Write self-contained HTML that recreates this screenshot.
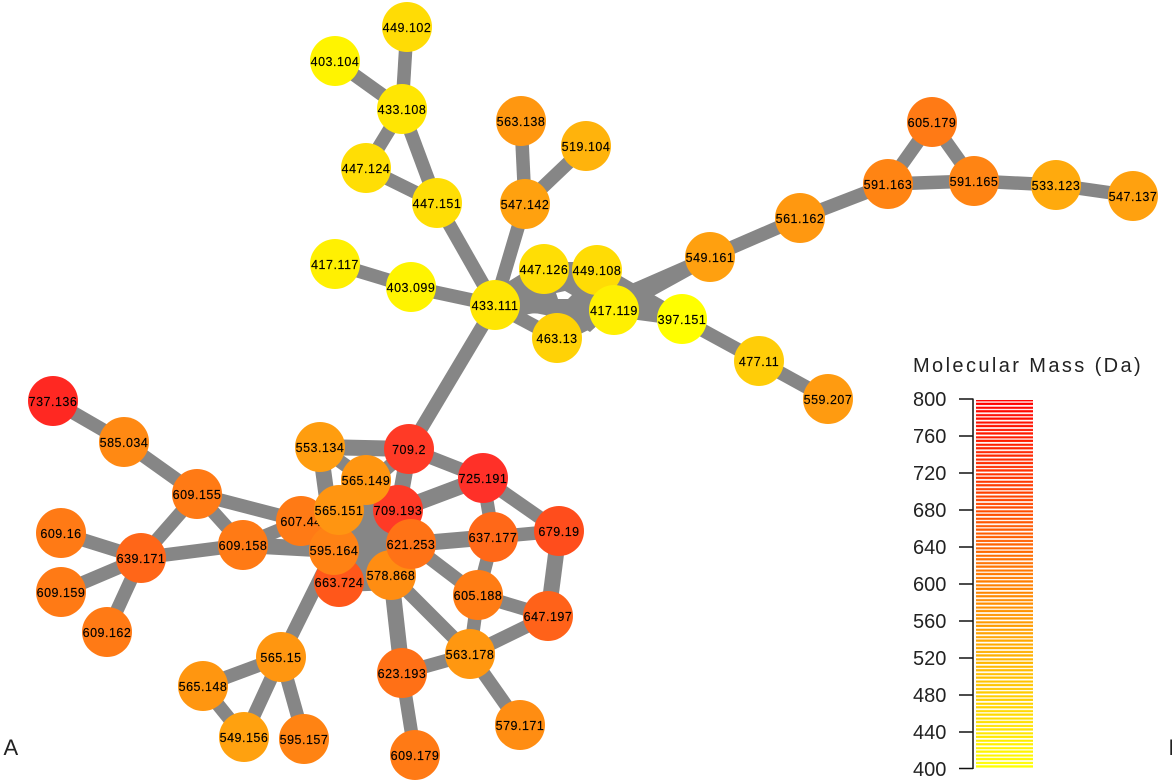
<!DOCTYPE html>
<html><head><meta charset="utf-8"><style>
html,body{margin:0;padding:0;background:#fff;width:1172px;height:783px;overflow:hidden}
svg{display:block}
text{font-family:"Liberation Sans",Arial,sans-serif}
.n text{font-size:12.5px;letter-spacing:.5px;text-anchor:middle;fill:#000;stroke:#000;stroke-width:.15}
.t{font-size:20px;fill:#222}
.e line{stroke:#868686;stroke-width:13.5}
.e line.k{stroke-width:16}
</style></head><body>
<svg width="1172" height="783" viewBox="0 0 1172 783" xmlns="http://www.w3.org/2000/svg">
<defs>
<linearGradient id="cb" x1="0" y1="0" x2="0" y2="1"><stop offset="0" stop-color="#ff0000"/><stop offset="1" stop-color="#ffff00"/></linearGradient>
<pattern id="gap" width="60" height="7.4" patternUnits="userSpaceOnUse" y="400"><rect width="60" height="1.3" y="1.4" fill="#fff"/><rect width="60" height="1.7" y="5" fill="#fff"/></pattern>
</defs>
<g class="e">
<line x1="407" y1="27" x2="402" y2="109"/><line x1="335" y1="61" x2="402" y2="109"/><line x1="402" y1="109" x2="366" y2="168"/><line x1="402" y1="109" x2="437" y2="203"/><line x1="366" y1="168" x2="437" y2="203"/><line x1="437" y1="203" x2="495" y2="305"/><line x1="521" y1="121" x2="525" y2="204"/><line x1="586" y1="146" x2="525" y2="204"/><line x1="525" y1="204" x2="495" y2="305"/><line x1="335" y1="264" x2="411" y2="287"/><line x1="411" y1="287" x2="495" y2="305"/><line x1="495" y1="305" x2="409" y2="449"/>
<line x1="495" y1="305" x2="544" y2="269"/><line x1="495" y1="305" x2="597" y2="270"/><line x1="495" y1="305" x2="614" y2="310"/><line x1="495" y1="305" x2="557" y2="338"/><line x1="544" y1="269" x2="614" y2="310"/><line x1="544" y1="269" x2="557" y2="338"/><line x1="597" y1="270" x2="682" y2="319"/><line x1="544" y1="269" x2="682" y2="319"/><line x1="557" y1="338" x2="597" y2="270"/><line x1="557" y1="338" x2="614" y2="310"/><line x1="614" y1="310" x2="710" y2="257"/><line x1="600" y1="305" x2="710" y2="257"/><line x1="614" y1="310" x2="682" y2="319"/><line x1="682" y1="319" x2="759" y2="361"/><line x1="759" y1="361" x2="828" y2="399"/><line x1="710" y1="257" x2="800" y2="218"/><line x1="800" y1="218" x2="888" y2="184"/><line x1="888" y1="184" x2="932" y2="122"/><line x1="932" y1="122" x2="974" y2="181"/><line x1="888" y1="184" x2="974" y2="181"/><line x1="974" y1="181" x2="1056" y2="185"/><line x1="1056" y1="185" x2="1133" y2="196"/>
<line x1="53" y1="401" x2="124" y2="442"/><line x1="124" y1="442" x2="197" y2="494"/><line x1="197" y1="494" x2="141" y2="558"/><line x1="197" y1="494" x2="301" y2="521"/><line x1="197" y1="494" x2="243" y2="545"/><line x1="61" y1="533" x2="141" y2="558"/><line x1="61" y1="592" x2="141" y2="558"/><line x1="107" y1="632" x2="141" y2="558"/><line x1="141" y1="558" x2="243" y2="545"/><line x1="243" y1="545" x2="334" y2="550" class="k"/><line x1="243" y1="545" x2="301" y2="521"/>
<line x1="320" y1="447" x2="409" y2="449" class="k"/><line x1="320" y1="447" x2="366" y2="480"/><line x1="320" y1="447" x2="334" y2="550" class="k"/><line x1="409" y1="449" x2="483" y2="478"/><line x1="409" y1="449" x2="398" y2="510" class="k"/><line x1="409" y1="449" x2="339" y2="510"/><line x1="483" y1="478" x2="398" y2="510" class="k"/><line x1="483" y1="478" x2="493" y2="537"/><line x1="483" y1="478" x2="559" y2="531"/><line x1="493" y1="537" x2="559" y2="531"/><line x1="411" y1="544" x2="493" y2="537" class="k"/><line x1="411" y1="544" x2="478" y2="595"/><line x1="493" y1="537" x2="478" y2="595"/><line x1="478" y1="595" x2="548" y2="616"/><line x1="478" y1="595" x2="470" y2="654"/><line x1="559" y1="531" x2="548" y2="616" class="k"/><line x1="548" y1="616" x2="470" y2="654"/><line x1="391" y1="575" x2="470" y2="654"/><line x1="391" y1="575" x2="402" y2="673" class="k"/><line x1="402" y1="673" x2="470" y2="654"/><line x1="402" y1="673" x2="415" y2="755"/><line x1="470" y1="654" x2="520" y2="725"/><line x1="334" y1="550" x2="281" y2="657"/><line x1="281" y1="657" x2="203" y2="686"/><line x1="281" y1="657" x2="244" y2="737"/><line x1="281" y1="657" x2="304" y2="739"/><line x1="203" y1="686" x2="244" y2="737"/>
</g>
<polygon fill="#868686" points="340,515 375,495 412,540 398,590 340,592 325,550"/>
<polygon fill="#868686" points="495,290 540,262 600,262 625,300 590,332 570,320 535,313 495,320"/>
<polygon fill="#fff" points="556,293 565,291 572,295 568,299 558,299"/>
<g class="n">
<g><circle cx="407" cy="27" r="25" fill="#ffdc05"/><text x="407" y="32">449.102</text></g>
<g><circle cx="335" cy="61" r="25" fill="#fff400"/><text x="335" y="66">403.104</text></g>
<g><circle cx="402" cy="109" r="25" fill="#ffe603"/><text x="402" y="114">433.108</text></g>
<g><circle cx="366" cy="168" r="25" fill="#ffde05"/><text x="366" y="173">447.124</text></g>
<g><circle cx="437" cy="203" r="25" fill="#ffde05"/><text x="437" y="208">447.151</text></g>
<g><circle cx="521" cy="121" r="25" fill="#ff9710"/><text x="521" y="126">563.138</text></g>
<g><circle cx="586" cy="146" r="25" fill="#ffb30c"/><text x="586" y="151">519.104</text></g>
<g><circle cx="525" cy="204" r="25" fill="#ffa10f"/><text x="525" y="209">547.142</text></g>
<g><circle cx="335" cy="264" r="25" fill="#fff002"/><text x="335" y="269">417.117</text></g>
<g><circle cx="411" cy="287" r="25" fill="#fff400"/><text x="411" y="292">403.099</text></g>
<g><circle cx="544" cy="269" r="25" fill="#ffde05"/><text x="544" y="274">447.126</text></g>
<g><circle cx="597" cy="270" r="25" fill="#ffdc05"/><text x="597" y="275">449.108</text></g>
<g><circle cx="495" cy="305" r="25" fill="#ffe603"/><text x="495" y="310">433.111</text></g>
<g><circle cx="557" cy="338" r="25" fill="#ffd206"/><text x="557" y="343">463.13</text></g>
<g><circle cx="614" cy="310" r="25" fill="#fff002"/><text x="614" y="315">417.119</text></g>
<g><circle cx="682" cy="319" r="25" fill="#ffff00"/><text x="682" y="324">397.151</text></g>
<g><circle cx="710" cy="257" r="25" fill="#ffa00f"/><text x="710" y="262">549.161</text></g>
<g><circle cx="800" cy="218" r="25" fill="#ff9810"/><text x="800" y="223">561.162</text></g>
<g><circle cx="888" cy="184" r="25" fill="#ff8413"/><text x="888" y="189">591.163</text></g>
<g><circle cx="932" cy="122" r="25" fill="#ff7a15"/><text x="932" y="127">605.179</text></g>
<g><circle cx="974" cy="181" r="25" fill="#ff8413"/><text x="974" y="186">591.165</text></g>
<g><circle cx="1056" cy="185" r="25" fill="#ffaa0d"/><text x="1056" y="190">533.123</text></g>
<g><circle cx="1133" cy="196" r="25" fill="#ffa10f"/><text x="1133" y="201">547.137</text></g>
<g><circle cx="759" cy="361" r="25" fill="#ffcd08"/><text x="759" y="366">477.11</text></g>
<g><circle cx="828" cy="399" r="25" fill="#ff9b10"/><text x="828" y="404">559.207</text></g>
<g><circle cx="53" cy="401" r="25" fill="#ff2822"/><text x="53" y="406">737.136</text></g>
<g><circle cx="124" cy="442" r="25" fill="#ff8913"/><text x="124" y="447">585.034</text></g>
<g><circle cx="197" cy="494" r="25" fill="#ff7a15"/><text x="197" y="499">609.155</text></g>
<g><circle cx="61" cy="533" r="25" fill="#ff7a15"/><text x="61" y="538">609.16</text></g>
<g><circle cx="141" cy="558" r="25" fill="#ff6618"/><text x="141" y="563">639.171</text></g>
<g><circle cx="243" cy="545" r="25" fill="#ff7a15"/><text x="243" y="550">609.158</text></g>
<g><circle cx="61" cy="592" r="25" fill="#ff7a15"/><text x="61" y="597">609.159</text></g>
<g><circle cx="107" cy="632" r="25" fill="#ff7a15"/><text x="107" y="637">609.162</text></g>
<g><circle cx="320" cy="447" r="25" fill="#ff9d0f"/><text x="320" y="452">553.134</text></g>
<g><circle cx="409" cy="449" r="25" fill="#ff3a26"/><text x="409" y="454">709.2</text></g>
<g><circle cx="483" cy="478" r="25" fill="#ff3028"/><text x="483" y="483">725.191</text></g>
<g><circle cx="398" cy="510" r="25" fill="#ff3a26"/><text x="398" y="515">709.193</text></g>
<g><circle cx="366" cy="480" r="25" fill="#ff9510"/><text x="366" y="485">565.149</text></g>
<g><circle cx="301" cy="521" r="25" fill="#ff7a15"/><text x="301" y="526">607.44</text></g>
<g><circle cx="339" cy="582" r="25" fill="#ff571a"/><text x="339" y="587">663.724</text></g>
<g><circle cx="334" cy="550" r="25" fill="#ff8214"/><text x="334" y="555">595.164</text></g>
<g><circle cx="339" cy="510" r="25" fill="#ff9511"/><text x="339" y="515">565.151</text></g>
<g><circle cx="391" cy="575" r="25" fill="#ff8d12"/><text x="391" y="580">578.868</text></g>
<g><circle cx="411" cy="544" r="25" fill="#ff7216"/><text x="411" y="549">621.253</text></g>
<g><circle cx="493" cy="537" r="25" fill="#ff6818"/><text x="493" y="542">637.177</text></g>
<g><circle cx="559" cy="531" r="25" fill="#ff4d1c"/><text x="559" y="536">679.19</text></g>
<g><circle cx="478" cy="595" r="25" fill="#ff7c14"/><text x="478" y="600">605.188</text></g>
<g><circle cx="548" cy="616" r="25" fill="#ff6219"/><text x="548" y="621">647.197</text></g>
<g><circle cx="281" cy="657" r="25" fill="#ff9610"/><text x="281" y="662">565.15</text></g>
<g><circle cx="470" cy="654" r="25" fill="#ff9710"/><text x="470" y="659">563.178</text></g>
<g><circle cx="402" cy="673" r="25" fill="#ff7016"/><text x="402" y="678">623.193</text></g>
<g><circle cx="203" cy="686" r="25" fill="#ff9610"/><text x="203" y="691">565.148</text></g>
<g><circle cx="244" cy="737" r="25" fill="#ffa10f"/><text x="244" y="742">549.156</text></g>
<g><circle cx="304" cy="739" r="25" fill="#ff8313"/><text x="304" y="744">595.157</text></g>
<g><circle cx="520" cy="725" r="25" fill="#ff8d12"/><text x="520" y="730">579.171</text></g>
<g><circle cx="415" cy="755" r="25" fill="#ff7a15"/><text x="415" y="760">609.179</text></g>
</g>
<text x="913" y="372" font-size="20" letter-spacing="2.4" fill="#222">Molecular Mass (Da)</text>
<rect x="976" y="400" width="57" height="368" fill="url(#cb)"/>
<rect x="976" y="400" width="57" height="368" fill="url(#gap)"/>
<g stroke="#111" stroke-width="1.5">
<line x1="973" y1="398.500" x2="973" y2="769"/>
<line x1="959" y1="399" x2="973" y2="399"/><line x1="959" y1="436" x2="973" y2="436"/><line x1="959" y1="473" x2="973" y2="473"/><line x1="959" y1="510" x2="973" y2="510"/><line x1="959" y1="547" x2="973" y2="547"/><line x1="959" y1="584" x2="973" y2="584"/><line x1="959" y1="621" x2="973" y2="621"/><line x1="959" y1="658" x2="973" y2="658"/><line x1="959" y1="695" x2="973" y2="695"/><line x1="959" y1="732" x2="973" y2="732"/><line x1="959" y1="768.500" x2="973" y2="768.500"/>
</g>
<g class="t">
<text x="913" y="406">800</text><text x="913" y="443">760</text><text x="913" y="480">720</text><text x="913" y="517">680</text><text x="913" y="554">640</text><text x="913" y="591">600</text><text x="913" y="628">560</text><text x="913" y="665">520</text><text x="913" y="702">480</text><text x="913" y="739">440</text><text x="913" y="776">400</text>
</g>
<text x="3.500" y="755" font-size="22" fill="#222">A</text>
<text x="1168.500" y="755" font-size="22" fill="#222">B</text>
</svg>
</body></html>
